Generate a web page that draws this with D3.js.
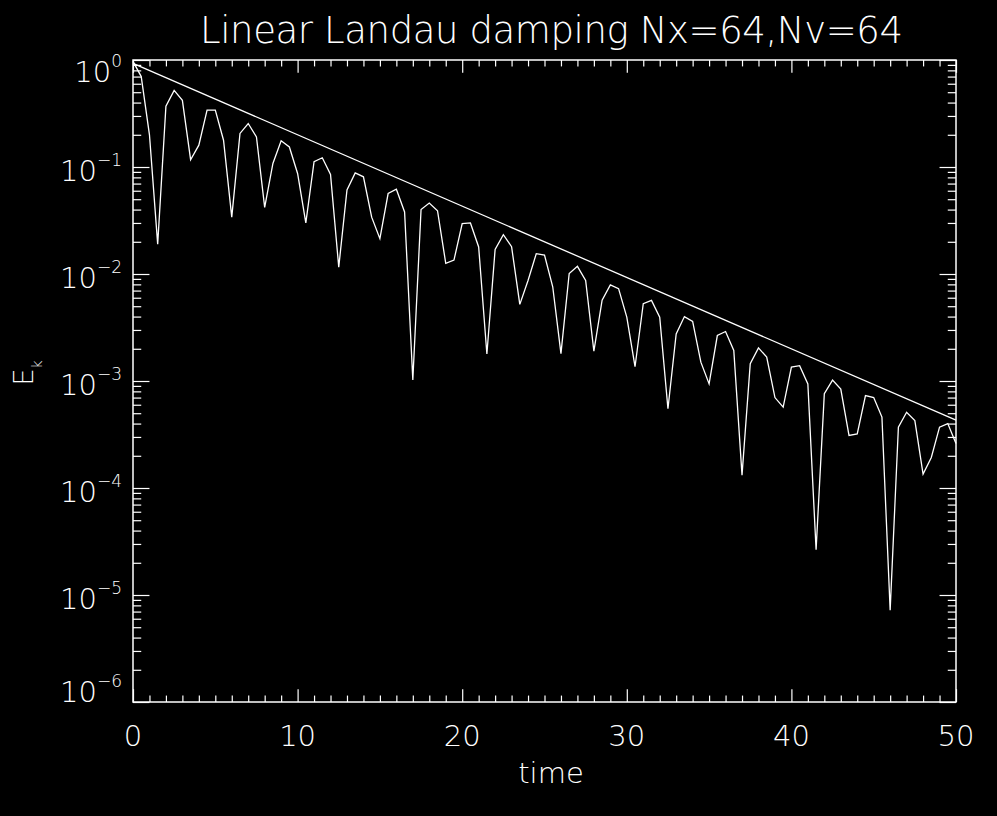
<!DOCTYPE html>
<html>
<head>
<meta charset="utf-8">
<script src="https://cdn.jsdelivr.net/npm/d3@7"></script>
<style>
  body { margin: 0; background: #000; }
  svg { display: block; background: #000; }
  text { fill: #fff; font-family: "DejaVu Sans", "Liberation Sans", sans-serif; font-weight: 200; }
</style>
</head>
<body>
<svg id="chart"></svg>
<script>

// sample times of the field energy (every 0.5)
var times = [
  0, 0.5, 1, 1.5, 2, 2.5, 3, 3.5, 4, 4.5,
  5, 5.5, 6, 6.5, 7, 7.5, 8, 8.5, 9, 9.5,
  10, 10.5, 11, 11.5, 12, 12.5, 13, 13.5, 14, 14.5,
  15, 15.5, 16, 16.5, 17, 17.5, 18, 18.5, 19, 19.5,
  20, 20.5, 21, 21.5, 22, 22.5, 23, 23.5, 24, 24.5,
  25, 25.5, 26, 26.5, 27, 27.5, 28, 28.5, 29, 29.5,
  30, 30.5, 31, 31.5, 32, 32.5, 33, 33.5, 34, 34.5,
  35, 35.5, 36, 36.5, 37, 37.5, 38, 38.5, 39, 39.5,
  40, 40.5, 41, 41.5, 42, 42.5, 43, 43.5, 44, 44.5,
  45, 45.5, 46, 46.5, 47, 47.5, 48, 48.5, 49, 49.5,
  50
];

// E_k at each time
var energy = [
  0.97, 0.70, 0.20, 0.019, 0.37, 0.52, 0.42, 0.117, 0.16, 0.34,
  0.34, 0.178, 0.034, 0.206, 0.255, 0.191, 0.042, 0.108, 0.176, 0.154,
  0.087, 0.030, 0.112, 0.122, 0.085, 0.0116, 0.061, 0.088, 0.081, 0.034,
  0.0214, 0.0565, 0.062, 0.038, 0.00102, 0.040, 0.046, 0.039, 0.0126, 0.0135,
  0.0296, 0.030, 0.0179, 0.00179, 0.017, 0.0233, 0.018, 0.0052, 0.0087, 0.0155,
  0.0150, 0.0076, 0.0018, 0.0101, 0.0118, 0.0087, 0.0019, 0.0057, 0.0079, 0.0073,
  0.00395, 0.00136, 0.00527, 0.00566, 0.00395, 0.00055, 0.00275, 0.0040, 0.0036, 0.0015,
  0.00094, 0.00266, 0.0029, 0.00193, 0.000132, 0.00145, 0.00204, 0.00167, 0.00070, 0.00057,
  0.00135, 0.00139, 0.00094, 0.0000265, 0.00076, 0.00102, 0.00084, 0.00031, 0.00032, 0.00073,
  0.00070, 0.00046, 0.0000072, 0.00037, 0.00051, 0.000426, 0.000135, 0.000193, 0.00037, 0.00040,
  0.00026
];

// theoretical damping line, end points
var rateT = [0, 50];
var rateE = [0.93, 0.00043];

// ticks
var xMajor = [0, 10, 20, 30, 40, 50];
var xMinor = d3.range(0, 51, 1).filter(function(d) { return d % 10 != 0; });
var yExp = [0, -1, -2, -3, -4, -5, -6];

var title = "Linear Landau damping Nx=64,Nv=64";

var config = {
  w: 997,
  h: 816,
  left: 133,
  right: 956,
  top: 60,
  bottom: 702
};

var svg = d3.select("#chart")
  .attr("width", config.w)
  .attr("height", config.h);

var x = d3.scaleLinear().domain([0, 50]).range([config.left, config.right]);
var y = d3.scaleLog().domain([1e-6, 1]).range([config.bottom, config.top]);

var yMajor = yExp.map(function(e) { return Math.pow(10, e); });
var yMinor = [];
yExp.slice(1).forEach(function(e) {
  d3.range(2, 10).forEach(function(m) { yMinor.push(m * Math.pow(10, e)); });
});

var ph = config.bottom - config.top;
var pw = config.right - config.left;
var xLen = 0.02 * ph, yLen = 0.02 * pw;

// draw one set of ticks with an axis generator, no labels, no domain
function ticks(axis, transform) {
  var g = svg.append("g")
    .attr("transform", transform)
    .call(axis);
  g.select(".domain").remove();
  g.selectAll("text").remove();
  g.selectAll("line").attr("stroke", "#fff").attr("stroke-width", 1.2);
}

ticks(d3.axisBottom(x).tickValues(xMajor).tickSize(-xLen), "translate(0," + config.bottom + ")");
ticks(d3.axisBottom(x).tickValues(xMinor).tickSize(-xLen / 2), "translate(0," + config.bottom + ")");
ticks(d3.axisTop(x).tickValues(xMajor).tickSize(-xLen), "translate(0," + config.top + ")");
ticks(d3.axisTop(x).tickValues(xMinor).tickSize(-xLen / 2), "translate(0," + config.top + ")");
ticks(d3.axisLeft(y).tickValues(yMajor).tickSize(-yLen), "translate(" + config.left + ",0)");
ticks(d3.axisLeft(y).tickValues(yMinor).tickSize(-yLen / 2), "translate(" + config.left + ",0)");
ticks(d3.axisRight(y).tickValues(yMajor).tickSize(-yLen), "translate(" + config.right + ",0)");
ticks(d3.axisRight(y).tickValues(yMinor).tickSize(-yLen / 2), "translate(" + config.right + ",0)");

// frame
svg.append("rect")
  .attr("x", config.left)
  .attr("y", config.top)
  .attr("width", pw)
  .attr("height", ph)
  .attr("fill", "none")
  .attr("stroke", "#fff")
  .attr("stroke-width", 1.5);

// x labels
svg.append("g").selectAll("text")
  .data(xMajor)
  .enter()
  .append("text")
    .attr("x", x)
    .attr("y", 746)
    .attr("text-anchor", "middle")
    .style("font-size", "29px")
    .text(function(d) { return d; });

// y labels, 10^n, kept inside the frame height
var yl = svg.append("g").selectAll("text")
  .data(yExp)
  .enter()
  .append("text")
    .attr("x", 122)
    .attr("y", function(e) {
      var b = y(Math.pow(10, e)) + 14;
      return Math.min(Math.max(b, config.top + 22), config.bottom);
    })
    .attr("text-anchor", "end")
    .style("font-size", "29px");
yl.append("tspan").text("10");
yl.append("tspan")
  .attr("dy", -15)
  .style("font-size", "17px")
  .text(function(e) { return e == 0 ? "0" : "\u2212" + (-e); });

// data
var line = d3.line()
  .x(function(d) { return x(d[0]); })
  .y(function(d) { return y(d[1]); });

svg.append("path")
  .datum(d3.zip(times, energy))
  .attr("d", line)
  .attr("fill", "none")
  .attr("stroke", "#fff")
  .attr("stroke-width", 1.3);

svg.append("path")
  .datum(d3.zip(rateT, rateE))
  .attr("d", line)
  .attr("fill", "none")
  .attr("stroke", "#fff")
  .attr("stroke-width", 1.3);

// titles
svg.append("text")
  .attr("x", 200)
  .attr("y", 43)
  .attr("textLength", 703)
  .attr("lengthAdjust", "spacing")
  .style("font-size", "37px")
  .text(title);

svg.append("text")
  .attr("x", 551)
  .attr("y", 783)
  .attr("text-anchor", "middle")
  .style("font-size", "29px")
  .text("time");

var yt = svg.append("text")
  .attr("transform", "translate(33,373) rotate(-90)")
  .attr("text-anchor", "middle")
  .style("font-size", "27px");
yt.append("tspan").text("E");
yt.append("tspan").attr("dy", 9).style("font-size", "14px").text("k");

</script>
</body>
</html>
